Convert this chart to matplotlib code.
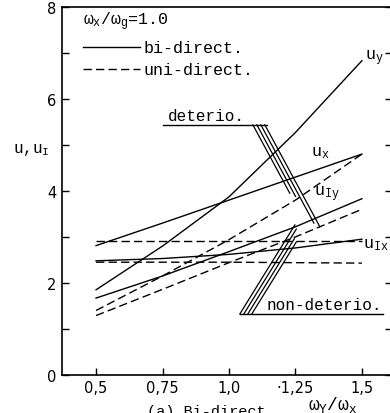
import matplotlib.pyplot as plt
from matplotlib.ticker import MultipleLocator, FixedLocator

ratio = [0.5, 0.75, 1.0, 1.25, 1.5]

# bi-directional input (solid)
uy_bi = [1.85, 2.80, 3.87, 5.27, 6.83]
ux_bi = [2.81, 3.30, 3.80, 4.30, 4.80]
uiy_bi = [1.67, 2.15, 2.68, 3.22, 3.83]
uix_bi = [2.48, 2.53, 2.62, 2.76, 2.95]

# uni-directional input (dashed)
u1_uni = [1.40, 2.15, 2.94, 3.80, 4.80]
u2_uni = [1.29, 1.86, 2.44, 3.00, 3.60]
u3_uni = [2.92, 2.92, 2.92, 2.92, 2.92]
u4_uni = [2.45, 2.45, 2.45, 2.44, 2.43]

xticks = [0.5, 0.75, 1.0, 1.25, 1.5]
xtick_labels = ["0,5", "0,75", "1,0", "·1,25", "1,5"]

mono = "Liberation Mono"
plt.rcParams["mathtext.fontset"] = "custom"
plt.rcParams["mathtext.rm"] = mono
plt.rcParams["mathtext.it"] = mono

fig = plt.figure(figsize=(3.9, 4.14), dpi=100)
ax = fig.add_axes([0.159, 0.092, 0.846, 0.889])

for s in (uy_bi, ux_bi, uiy_bi, uix_bi):
    ax.plot(ratio, s, color="black", lw=1.0)
for s in (u1_uni, u2_uni, u3_uni, u4_uni):
    ax.plot(ratio, s, color="black", lw=1.0, dashes=(6, 3))

ax.set_xlim(0.372, 1.613)
ax.set_ylim(0, 8)
ax.spines["right"].set_visible(False)
ax.xaxis.set_major_locator(FixedLocator(xticks))
ax.set_xticklabels(xtick_labels)
ax.yaxis.set_major_locator(MultipleLocator(2))
ax.yaxis.set_minor_locator(MultipleLocator(1))
ax.tick_params(axis="both", which="both", direction="in", length=5, width=1.0,
               labelsize=10.5, pad=4)
ax.tick_params(axis="y", which="both", right=True, labelright=False)
for sp in ax.spines.values():
    sp.set_linewidth(1.2)

# legend block
ax.text(0.45, 7.7, r"$\omega_{\rm x}/\omega_{\rm g}$=1.0", family=mono,
        fontsize=12, va="center")
ax.plot([0.45, 0.665], [7.12, 7.12], color="black", lw=1.0)
ax.text(0.68, 7.12, "bi-direct.", family=mono, fontsize=12, va="center")
ax.plot([0.45, 0.665], [6.64, 6.64], color="black", lw=1.0, dashes=(6, 3))
ax.text(0.68, 6.64, "uni-direct.", family=mono, fontsize=12, va="center")

# curve labels
ax.text(1.51, 6.9, r"u$_{\rm y}$", family=mono, fontsize=12, va="center")
ax.text(1.31, 4.85, r"u$_{\rm x}$", family=mono, fontsize=12, va="center")
ax.text(1.32, 3.95, r"u$_{\rm Iy}$", family=mono, fontsize=12, va="center")
ax.text(1.505, 2.85, r"u$_{\rm Ix}$", family=mono, fontsize=12, va="center")

# deterio. leader bundle
ax.text(0.77, 5.48, "deterio.", family=mono, fontsize=11.5, va="bottom")
ax.plot([0.752, 1.143], [5.435, 5.435], color="black", lw=1.0)
for x0, y1 in zip([1.090, 1.105, 1.120, 1.135], [3.95, 3.88, 3.30, 3.22]):
    ax.plot([x0, x0 + 0.0934 * (5.435 - y1)], [5.435, y1], color="black", lw=0.9)

# non-deterio. leader bundle
ax.text(1.143, 1.37, "non-deterio.", family=mono, fontsize=11.5, va="bottom")
ax.plot([1.041, 1.579], [1.326, 1.326], color="black", lw=1.0)
for x0, y1 in zip([1.041, 1.056, 1.071, 1.086], [3.26, 3.17, 2.96, 2.89]):
    ax.plot([x0, x0 + 0.107 * (y1 - 1.326)], [1.326, y1], color="black", lw=0.9)

# axis labels
fig.text(13 / 390, 1 - 150 / 414, r"u,u$_{\rm I}$", family=mono, fontsize=11.5,
         va="center", ha="left")
fig.text(333 / 390, 1 - 405 / 414, r"$\omega_{\rm Y}/\omega_{\rm x}$",
         fontsize=13, va="center", ha="center")
fig.text(147 / 390, 1 - 405 / 414, "(a) Bi-direct.", family=mono, fontsize=11,
         va="top", ha="left")

fig.savefig("out.png", dpi=100)
